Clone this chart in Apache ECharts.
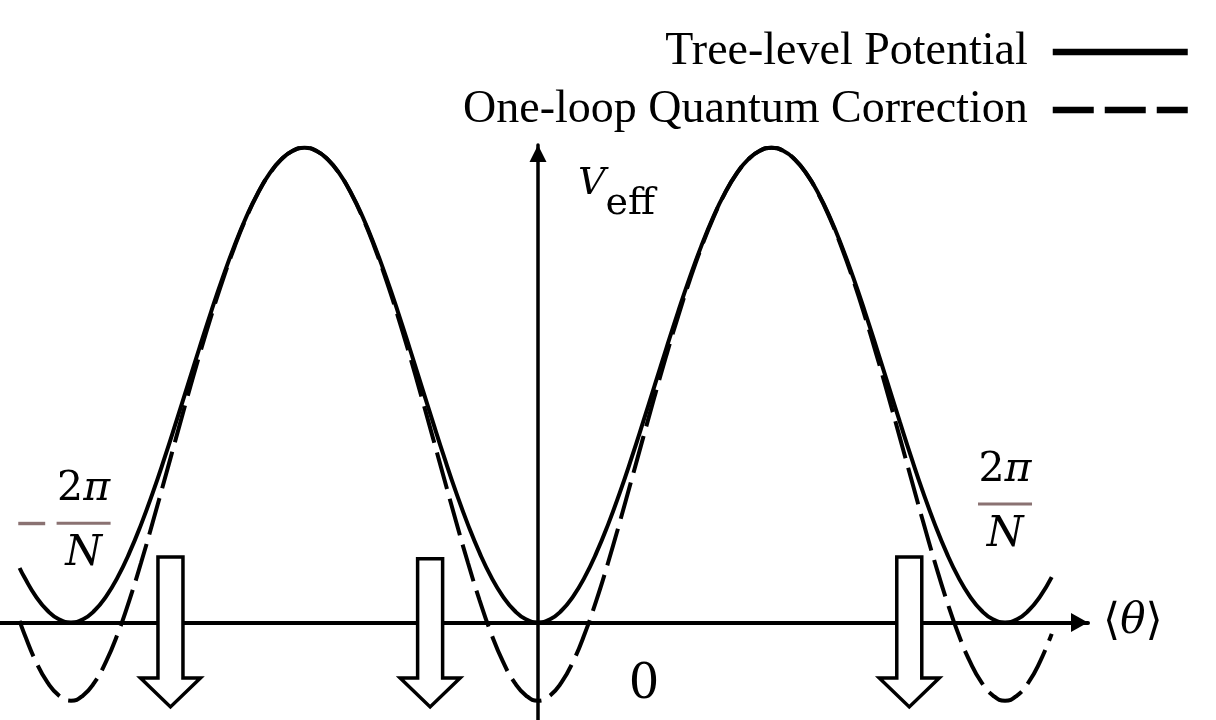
<!DOCTYPE html>
<html><head><meta charset="utf-8">
<script src="https://cdn.jsdelivr.net/npm/echarts@6/dist/echarts.min.js"></script>
<style>html,body{margin:0;padding:0;background:#fff}#c{width:1216px;height:720px}</style>
</head><body><div id="c"></div>
<script>
// theta in units of 2π/N
const theta = [-1.11, -1.1, -1.075, -1.05, -1.025, -1, -0.975, -0.95, -0.925, -0.9, -0.875, -0.85, -0.825, -0.8, -0.775, -0.75, -0.725, -0.7, -0.675, -0.65, -0.625, -0.6, -0.575, -0.55, -0.525, -0.5, -0.475, -0.45, -0.425, -0.4, -0.375, -0.35, -0.325, -0.3, -0.275, -0.25, -0.225, -0.2, -0.175, -0.15, -0.125, -0.1, -0.075, -0.05, -0.025, 0, 0.025, 0.05, 0.075, 0.1, 0.125, 0.15, 0.175, 0.2, 0.225, 0.25, 0.275, 0.3, 0.325, 0.35, 0.375, 0.4, 0.425, 0.45, 0.475, 0.5, 0.525, 0.55, 0.575, 0.6, 0.625, 0.65, 0.675, 0.7, 0.725, 0.75, 0.775, 0.8, 0.825, 0.85, 0.875, 0.9, 0.925, 0.95, 0.975, 1, 1.025, 1.05, 1.075, 1.1];
const treeLevel = [0.1147, 0.0955, 0.0545, 0.0245, 0.0062, 0,
  0.0062, 0.0245, 0.0545, 0.0955, 0.1464, 0.2061, 0.2730, 0.3455, 0.4218, 0.5, 0.5782, 0.6545, 0.7270, 0.7939, 0.8536, 0.9045, 0.9455, 0.9755, 0.9938, 1,
  0.9938, 0.9755, 0.9455, 0.9045, 0.8536, 0.7939, 0.7270, 0.6545, 0.5782, 0.5, 0.4218, 0.3455, 0.2730, 0.2061, 0.1464, 0.0955, 0.0545, 0.0245, 0.0062, 0,
  0.0062, 0.0245, 0.0545, 0.0955, 0.1464, 0.2061, 0.2730, 0.3455, 0.4218, 0.5, 0.5782, 0.6545, 0.7270, 0.7939, 0.8536, 0.9045, 0.9455, 0.9755, 0.9938, 1,
  0.9938, 0.9755, 0.9455, 0.9045, 0.8536, 0.7939, 0.7270, 0.6545, 0.5782, 0.5, 0.4218, 0.3455, 0.2730, 0.2061, 0.1464, 0.0955, 0.0545, 0.0245, 0.0062, 0,
  0.0062, 0.0245, 0.0545, 0.0955];
const oneLoop = [0.003, -0.024, -0.0827, -0.127, -0.1546, -0.165,
  -0.1546, -0.127, -0.0827, -0.024, 0.0465, 0.1257, 0.2109, 0.2994, 0.3888, 0.4774, 0.5633, 0.645, 0.7212, 0.7905, 0.8517, 0.9035, 0.945, 0.9752, 0.9937, 1,
  0.9937, 0.9752, 0.945, 0.9035, 0.8517, 0.7905, 0.7212, 0.645, 0.5633, 0.4774, 0.3888, 0.2994, 0.2109, 0.1257, 0.0465, -0.024, -0.0827, -0.127, -0.1546, -0.165,
  -0.1546, -0.127, -0.0827, -0.024, 0.0465, 0.1257, 0.2109, 0.2994, 0.3888, 0.4774, 0.5633, 0.645, 0.7212, 0.7905, 0.8517, 0.9035, 0.945, 0.9752, 0.9937, 1,
  0.9937, 0.9752, 0.945, 0.9035, 0.8517, 0.7905, 0.7212, 0.645, 0.5633, 0.4774, 0.3888, 0.2994, 0.2109, 0.1257, 0.0465, -0.024, -0.0827, -0.127, -0.1546, -0.165,
  -0.1546, -0.127, -0.0827, -0.024];
const seriesNames = ['Tree-level Potential', 'One-loop Quantum Correction'];
// hollow down arrows
const arrowTheta = [-0.787, -0.231, 0.795];
const arrowTop = [0.138, 0.134, 0.138];
const arrowTip = [-0.178, -0.178, -0.178];
// fraction labels ±2π/N
const fracTheta = [-0.973, 1.0];
const fracBarV = [0.209, 0.2495];
const fracSign = ['\u2212', ''];
// origin tick label
const originTicks = [0];

const barColor = '#8a7272';
const chart = echarts.init(document.getElementById('c'), null, {renderer: 'canvas'});
const pairs = arr => theta.map((t, i) => [t, arr[i]]);

chart.setOption({
  animation: false,
  backgroundColor: '#fff',
  grid: {left: 0, right: 128, top: 145, bottom: 0, containLabel: false, outerBoundsMode: 'none'},
  legend: {
    orient: 'vertical', right: 20, top: 24, align: 'right',
    itemWidth: 135, itemHeight: 10, itemGap: 12,
    itemStyle: {opacity: 0},
    textStyle: {fontFamily: '"Liberation Serif", serif', fontSize: 46, color: '#000', padding: [0, 20, 0, 0]},
    data: [
      {name: seriesNames[0], lineStyle: {width: 6.5, type: 'solid', color: '#000'}},
      {name: seriesNames[1], lineStyle: {width: 6.5, type: [41, 11], color: '#000'}}
    ]
  },
  xAxis: {
    type: 'value', min: -1.152, max: 1.1777,
    axisLine: {onZero: true, lineStyle: {color: '#000', width: 4}, symbol: ['none', 'triangle'], symbolSize: [19, 17], symbolOffset: [0, -8.5]},
    axisTick: {show: false}, splitLine: {show: false}, axisLabel: {show: false},
    name: '{b|\u27E8}{t|\u03B8}{b|\u27E9}', nameLocation: 'end', nameGap: 15,
    nameTextStyle: {align: 'left', verticalAlign: 'middle',
      rich: {b: {fontFamily: '"DejaVu Sans", sans-serif', fontSize: 44, color: '#000'},
             t: {fontFamily: '"DejaVu Serif", serif', fontStyle: 'italic', fontSize: 42, color: '#000'}}}
  },
  yAxis: {
    type: 'value', min: -0.2056, max: 1.0059,
    axisLine: {onZero: true, lineStyle: {color: '#000', width: 3.5}, symbol: ['none', 'triangle'], symbolSize: [17, 17], symbolOffset: [0, -8.5]},
    axisTick: {show: false}, splitLine: {show: false}, axisLabel: {show: false},
    name: '{v|V}{s|eff}', nameLocation: 'end', nameGap: -20,
    nameTextStyle: {align: 'left', verticalAlign: 'top', padding: [0, 0, 0, 40],
      rich: {v: {fontFamily: '"DejaVu Serif", serif', fontStyle: 'italic', fontSize: 38, lineHeight: 58, verticalAlign: 'top', color: '#000'},
             s: {fontFamily: '"DejaVu Serif", serif', fontSize: 38, lineHeight: 58, verticalAlign: 'bottom', color: '#000'}}}
  },
  series: [
    {name: seriesNames[0], type: 'line', data: pairs(treeLevel), smooth: true, symbol: 'none', clip: false,
     lineStyle: {color: '#000', width: 4, type: 'solid'}, itemStyle: {color: '#000'}, z: 3},
    {name: seriesNames[1], type: 'line', data: pairs(oneLoop), smooth: true, symbol: 'none', clip: false,
     lineStyle: {color: '#000', width: 4, type: [38, 10]}, itemStyle: {color: '#000'}, z: 3},
    {type: 'custom', z: 5, silent: true,
     data: arrowTheta.map((t, i) => [t, arrowTop[i], arrowTip[i]]),
     renderItem: function (params, api) {
       const top = api.coord([api.value(0), api.value(1)]);
       const tip = api.coord([api.value(0), api.value(2)]);
       const cx = top[0], ty = top[1], py = tip[1];
       const sw = 12.5, hw = 30, hl = 29;
       return {type: 'polygon', shape: {points: [
         [cx - sw, ty], [cx + sw, ty], [cx + sw, py - hl], [cx + hw, py - hl], [cx, py], [cx - hw, py - hl], [cx - sw, py - hl]
       ]}, style: {fill: '#fff', stroke: '#000', lineWidth: 3.5, lineJoin: 'miter'}};
     }},
    {type: 'custom', z: 6, silent: true,
     data: fracTheta.map((t, i) => [t, fracBarV[i]]),
     renderItem: function (params, api) {
       const i = params.dataIndex;
       const p = api.coord([api.value(0), api.value(1)]);
       const cx = p[0], cy = p[1];
       const children = [
         {type: 'text', x: cx, y: cy - 34, style: {text: '{d|2}{p|\u03C0}', align: 'center', verticalAlign: 'middle',
           rich: {d: {fontFamily: '"DejaVu Serif", serif', fontSize: 41, fill: '#000', color: '#000'},
                  p: {fontFamily: '"DejaVu Serif", serif', fontStyle: 'italic', fontSize: 41, fill: '#000', color: '#000'}}}},
         {type: 'line', shape: {x1: cx - 27, y1: cy, x2: cx + 27, y2: cy}, style: {stroke: barColor, lineWidth: 3}},
         {type: 'text', x: cx, y: cy + 31, style: {text: 'N', fill: '#000', font: 'italic 42px "DejaVu Serif", serif', align: 'center', verticalAlign: 'middle'}}
       ];
       if (fracSign[i]) {
         children.push({type: 'text', x: cx - 52, y: cy + 3, style: {text: fracSign[i], fill: barColor, font: '43px "DejaVu Serif", serif', align: 'center', verticalAlign: 'middle'}});
       }
       return {type: 'group', children: children};
     }},
    {type: 'custom', z: 6, silent: true,
     data: originTicks.map(v => [v, 0]),
     renderItem: function (params, api) {
       const p = api.coord([api.value(0), api.value(1)]);
       return {type: 'text', x: p[0] + 106, y: p[1] + 63,
         style: {text: String(originTicks[params.dataIndex]), fill: '#000', font: '48px "DejaVu Serif", serif', align: 'center', verticalAlign: 'middle'}};
     }}
  ]
});
</script>
</body></html>
